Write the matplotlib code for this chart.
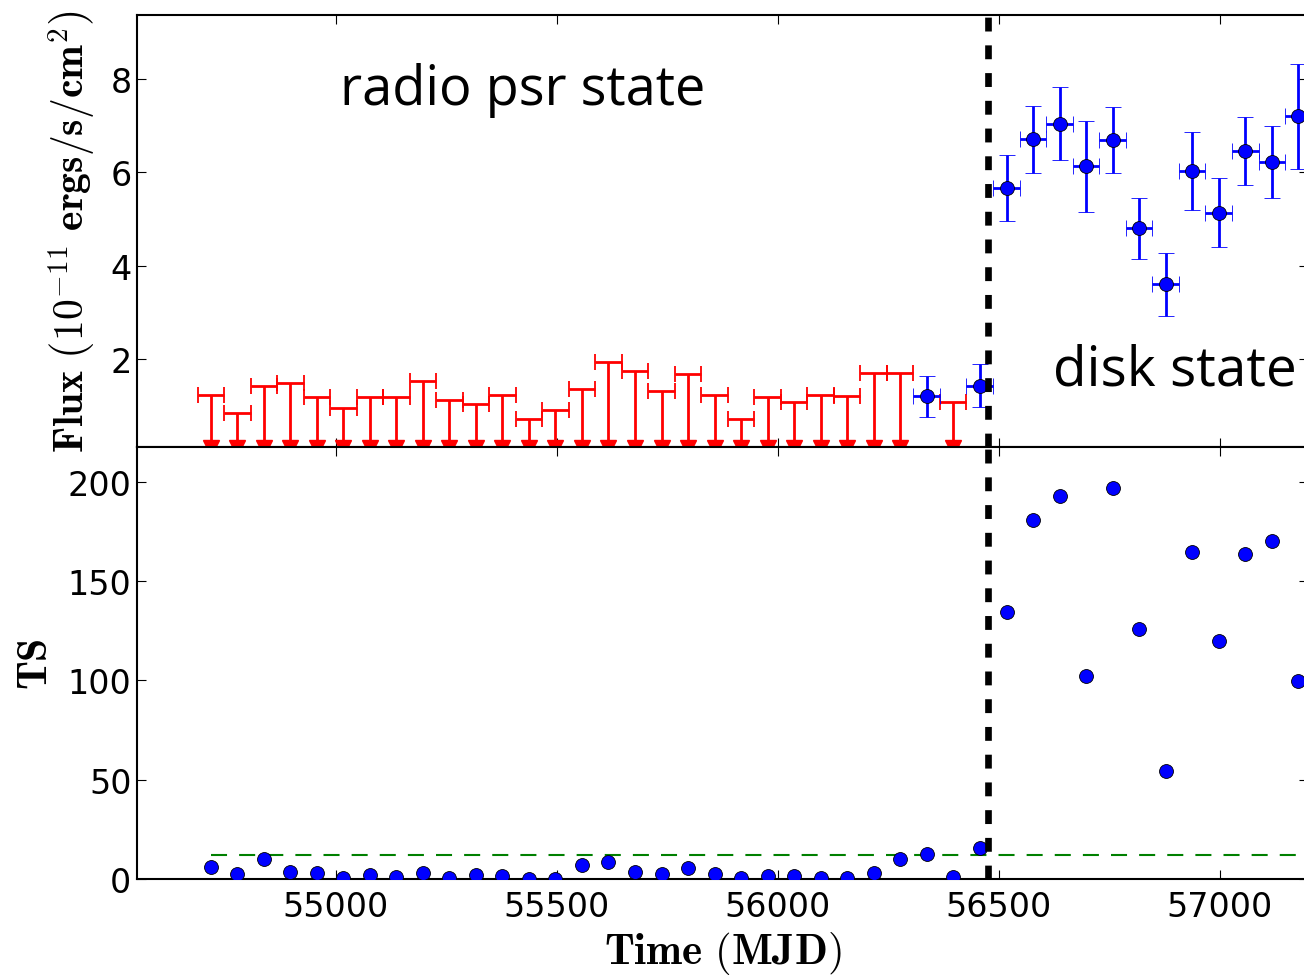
import numpy as np
import matplotlib
matplotlib.use("Agg")
import matplotlib.pyplot as plt

plt.rcParams['mathtext.fontset'] = 'cm'
plt.rcParams['font.family'] = ['DejaVu Sans']

# ---------------- data ----------------
half_bin = 30  # days (x error)

# upper limits (radio pulsar state)
ul_time = [54717, 54777, 54837, 54897, 54957, 55017, 55077, 55137, 55197, 55257,
           55317, 55377, 55437, 55497, 55557, 55617, 55677, 55737, 55797, 55857,
           55917, 55977, 56037, 56097, 56157, 56217, 56277, 56397]
ul_flux = [1.23, 0.84, 1.43, 1.50, 1.20, 0.95, 1.20, 1.20, 1.53, 1.12,
           1.05, 1.23, 0.73, 0.92, 1.36, 1.94, 1.74, 1.31, 1.68, 1.23,
           0.72, 1.20, 1.09, 1.23, 1.21, 1.70, 1.71, 1.09]

# detections
det_time = [56337, 56457, 56518, 56578, 56638, 56698, 56758, 56818, 56878,
            56938, 56998, 57058, 57118, 57178]
det_flux = [1.21, 1.43, 5.66, 6.71, 7.04, 6.13, 6.69, 4.80, 3.60,
            6.03, 5.14, 6.46, 6.23, 7.20]
det_err = [0.44, 0.46, 0.71, 0.72, 0.78, 0.98, 0.70, 0.66, 0.68,
           0.83, 0.73, 0.73, 0.77, 1.13]

# TS values
ts_time = [54717, 54777, 54837, 54897, 54957, 55017, 55077, 55137, 55197, 55257,
           55317, 55377, 55437, 55497, 55557, 55617, 55677, 55737, 55797, 55857,
           55917, 55977, 56037, 56097, 56157, 56217, 56277, 56337, 56397, 56457,
           56518, 56578, 56638, 56698, 56758, 56818, 56878, 56938, 56998, 57058,
           57118, 57178]
ts_val = [5.9, 2.3, 10.2, 3.6, 3.1, 0.6, 1.8, 0.9, 2.8, 0.6,
          1.8, 1.4, 0.25, 0.25, 7.3, 8.7, 3.6, 2.3, 5.6, 2.6,
          0.6, 1.4, 1.4, 0.6, 0.6, 2.8, 10.2, 12.7, 1.1, 15.4,
          134.5, 180.9, 193.0, 102.0, 197.0, 126.0, 54.2, 164.8, 119.9, 163.8,
          170.3, 99.5]

ts_threshold = 12.0
transition_mjd = 56475

xticks = [55000, 55500, 56000, 56500, 57000]
flux_ticks = [2, 4, 6, 8]
ts_ticks = [0, 50, 100, 150, 200]

# ---------------- figure ----------------
W, H = 1304, 978
fig = plt.figure(figsize=(W / 100, H / 100), dpi=100)
left = 137 / W
width = (1308 - 137) / W
ax1 = fig.add_axes([left, 1 - 448 / H, width, (448 - 16) / H])
ax2 = fig.add_axes([left, 1 - 880 / H, width, (880 - 448) / H], sharex=ax1)

for ax in (ax1, ax2):
    for sp in ax.spines.values():
        sp.set_linewidth(1.5)
    ax.tick_params(direction='in', length=6.5, width=0.8, top=True, right=True,
                   labelsize=24)
    ax.tick_params(axis='x', pad=8)
    ax.tick_params(axis='y', pad=4)

# --- top panel ---
ul_arr = np.array(ul_flux)
ax1.errorbar(ul_time, ul_flux, xerr=half_bin, fmt='none', ecolor='red',
             elinewidth=2.0, capsize=5.5, capthick=1.3, zorder=3)
ax1.vlines(ul_time, 0.25, ul_arr, color='red', lw=2.0, zorder=3)
ax1.plot(ul_time, np.full(len(ul_time), 0.10), linestyle='none', marker='v',
         color='red', ms=11, mec='red', zorder=3)

ax1.errorbar(det_time, det_flux, xerr=half_bin, yerr=det_err, fmt='o',
             color='blue', ecolor='blue', mec='black', mew=0.6, ms=10,
             elinewidth=2.0, capsize=5.5, capthick=1.3, zorder=4)

ax1.axvline(transition_mjd, color='black', lw=4.8, linestyle=(0, (2.08, 2.08)),
            zorder=5)

ax1.set_xlim(54550, 57200)
ax1.set_ylim(0.12, 9.37)
ax1.set_yticks(flux_ticks)
ax1.set_xticks(xticks)
ax1.tick_params(axis='x', labelbottom=False)
ax1.set_ylabel(r'$\mathbf{Flux}\ \left(10^{-11}\ \mathbf{ergs/s/cm}^{2}\right)$',
               fontsize=30, labelpad=9)

ax1.text(55009, 7.46, 'radio psr state', fontsize=39, family='Open Sans',
         va='baseline', ha='left')
ax1.text(56622, 1.46, 'disk state', fontsize=39.5, family='Open Sans',
         va='baseline', ha='left')

# --- bottom panel ---
ax2.plot(ts_time, ts_val, linestyle='none', marker='o', color='blue',
         mec='black', mew=0.6, ms=10, zorder=4)
ax2.hlines(ts_threshold, ts_time[0], 57400, colors='green', lw=1.5,
           linestyles=(0, (7.7, 5.8)), zorder=3)
ax2.axvline(transition_mjd, color='black', lw=4.8, linestyle=(0, (2.08, 2.08)),
            zorder=5)
ax2.set_ylim(0, 217.5)
ax2.set_yticks(ts_ticks)
ax2.set_xticks(xticks)
ax2.set_xlim(54550, 57200)
ax2.set_xlabel(r'$\mathbf{Time}\ (\mathbf{MJD})$', fontsize=31, labelpad=4)
ax2.set_ylabel(r'$\mathbf{TS}$', fontsize=30, labelpad=8)

fig.savefig('out.png', dpi=100)
